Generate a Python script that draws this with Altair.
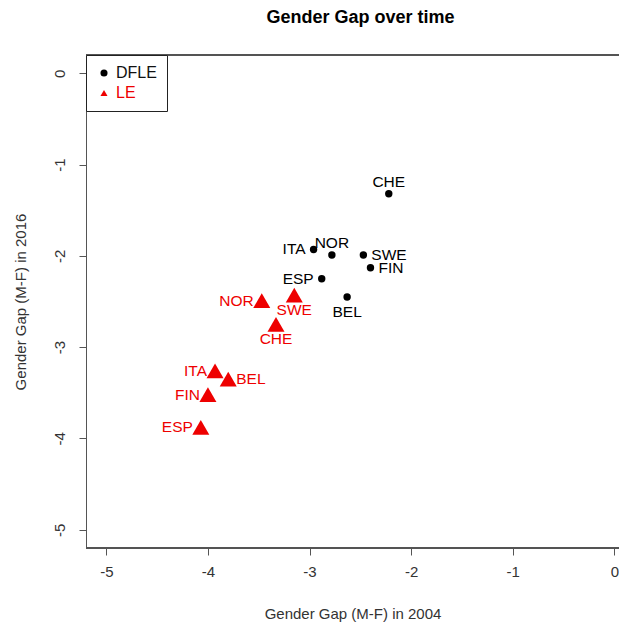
import altair as alt
import pandas as pd

countries = ["BEL", "CHE", "ESP", "FIN", "ITA", "NOR", "SWE"]
dfle_2004 = [-2.63, -2.22, -2.88, -2.40, -2.96, -2.78, -2.47]
dfle_2016 = [-2.45, -1.32, -2.25, -2.13, -1.93, -1.99, -1.99]
le_2004 = [-3.80, -3.33, -4.07, -4.00, -3.93, -3.47, -3.15]
le_2016 = [-3.35, -2.75, -3.88, -3.52, -3.26, -2.49, -2.43]
dfle_label_side = ["below", "above", "left", "right", "left", "above", "right"]
le_label_side = ["right", "below", "left", "left", "left", "left", "below"]
series_names = ["DFLE", "LE"]
axis_ticks = [-5, -4, -3, -2, -1, 0]

rows = []
for i, c in enumerate(countries):
    rows.append({"country": c, "series": "DFLE", "gap2004": dfle_2004[i],
                 "gap2016": dfle_2016[i], "side": dfle_label_side[i]})
for i, c in enumerate(countries):
    rows.append({"country": c, "series": "LE", "gap2004": le_2004[i],
                 "gap2016": le_2016[i], "side": le_label_side[i]})
df = pd.DataFrame(rows)

FONT = "Liberation Sans"
AXIS_COL = "#555555"
W, H = 533, 493
PX_PER_UNIT = 101.6

legend = alt.Legend(
    title=None, orient="none", legendX=0, legendY=0,
    strokeColor="#222222", fillColor="white", padding=10, cornerRadius=0,
    symbolSize=50, symbolStrokeWidth=0, labelFontSize=16, labelOffset=4,
    rowPadding=4, labelFont=FONT,
    labelColor={"expr": "datum.label == 'LE' ? '#ee0000' : '#111111'"},
)

color_scale = alt.Scale(domain=series_names, range=["#000000", "#ee0000"])
shape_scale = alt.Scale(domain=series_names, range=["circle", "triangle-up"])

x_enc = alt.X(
    "gap2004:Q",
    scale=alt.Scale(domain=[-5.2, -5.2 + W / PX_PER_UNIT], nice=False, zero=False),
    axis=alt.Axis(values=axis_ticks, labelExpr="datum.value + ''",
                  title="Gender Gap (M-F) in 2004", domain=False, grid=False,
                  tickSize=7, tickColor=AXIS_COL, labelPadding=9,
                  labelFontSize=15, labelColor="#333333", titleFontSize=15,
                  titleFontWeight="normal", titleColor="#333333",
                  titleY=65, titleBaseline="middle", labelFont=FONT, titleFont=FONT),
)
y_enc = alt.Y(
    "gap2016:Q",
    scale=alt.Scale(domain=[-5.2, 0.2], nice=False, zero=False),
    axis=alt.Axis(values=axis_ticks, labelExpr="datum.value + ''",
                  title="Gender Gap (M-F) in 2016", domain=True, domainColor=AXIS_COL,
                  grid=False, tickSize=7, tickColor=AXIS_COL, labelAngle=270,
                  labelAlign="center", labelBaseline="bottom", labelPadding=12,
                  labelFontSize=15, labelColor="#333333", titleFontSize=15,
                  titleFontWeight="normal", titleColor="#333333", titleAngle=270,
                  titleX=-66, titleBaseline="middle", labelFont=FONT, titleFont=FONT),
)

base = alt.Chart(df).encode(x=x_enc, y=y_enc)

def point_layer(series, size):
    return base.mark_point(filled=True, opacity=1, strokeWidth=0, size=size).encode(
        color=alt.Color("series:N", scale=color_scale, legend=legend),
        shape=alt.Shape("series:N", scale=shape_scale, legend=legend),
    ).transform_filter(alt.datum.series == series)

circles = point_layer("DFLE", 55)
triangles = point_layer("LE", 290)

def labels(side, **kw):
    return base.mark_text(fontSize=15.5, font=FONT, **kw).encode(
        text="country:N",
        color=alt.Color("series:N", scale=color_scale, legend=None),
    ).transform_filter(alt.datum.side == side)

lab_above = labels("above", align="center", baseline="middle", dy=-12)
lab_below = labels("below", align="center", baseline="middle", dy=15)
lab_left = labels("left", align="right", baseline="middle", dx=-8)
lab_right = labels("right", align="left", baseline="middle", dx=8)

top_border = alt.Chart(df).mark_rule(color=AXIS_COL, strokeWidth=1.2).encode(
    x=alt.value(0), x2=alt.value(W), y=alt.value(0)
)
bottom_border = alt.Chart(df).mark_rule(color=AXIS_COL, strokeWidth=1.2).encode(
    x=alt.value(0), x2=alt.value(W), y=alt.value(H)
)

chart = alt.layer(
    top_border, bottom_border, circles, triangles,
    lab_above, lab_below, lab_left, lab_right
).properties(
    width=W, height=H,
    title=alt.TitleParams("Gender Gap over time", fontSize=18, fontWeight="bold",
                          font=FONT, anchor="middle", offset=27, dx=8, color="#000000"),
    autosize=alt.AutoSizeParams(type="none"),
    padding={"left": 78, "top": 47, "right": 0, "bottom": 74},
).configure_view(stroke=None).configure(background="white")

chart.save("out.html", embed_options={"renderer": "svg", "actions": False})
